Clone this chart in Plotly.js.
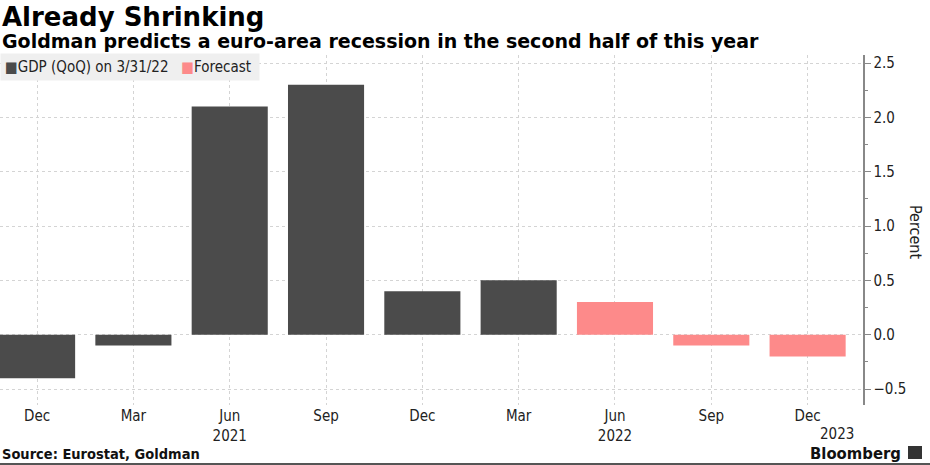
<!DOCTYPE html>
<html>
<head>
<meta charset="utf-8">
<script src="https://cdn.plot.ly/plotly-3.0.1.min.js"></script>
<style>html,body{margin:0;padding:0;background:#fff;}#chart{width:930px;height:465px;}</style>
</head>
<body>
<div id="chart"></div>
<script>
const categories = ['Dec 2020','Mar 2021','Jun 2021','Sep 2021','Dec 2021','Mar 2022','Jun 2022','Sep 2022','Dec 2022'];
const tickLabels = ['Dec','Mar','Jun<br>2021','Sep','Dec','Mar','Jun<br>2022','Sep','Dec'];
const gdpValues = [-0.4, -0.1, 2.1, 2.3, 0.4, 0.5, null, null, null];
const forecastValues = [null, null, null, null, null, null, 0.3, -0.1, -0.2];
const yTicks = [-0.5, 0, 0.5, 1, 1.5, 2, 2.5];
const seriesNames = ['GDP (QoQ) on 3/31/22', 'Forecast'];
const seriesColors = ['#4b4b4b', '#fd8a8a'];

const condensed = 'DejaVu Sans Condensed, DejaVu Sans, sans-serif';
const tickFont = {family: condensed, size: 15, color: '#222'};
const W = 863, H = 350, TOP = 55;
function px(X){ return X / W; }
function py(Y){ return (TOP + H - Y) / H; }

const traces = [
  {type:'bar', x: categories, y: gdpValues, name: seriesNames[0], marker:{color: seriesColors[0]}},
  {type:'bar', x: categories, y: forecastValues, name: seriesNames[1], marker:{color: seriesColors[1]}}
];

const legendText = '<span style="color:' + seriesColors[0] + '">■</span>' + seriesNames[0] +
  '   <span style="color:' + seriesColors[1] + '">■</span>' + seriesNames[1] + ' ';

const layout = {
  width: 930, height: 465,
  margin: {l:0, r:67, t:TOP, b:60},
  paper_bgcolor:'#fff', plot_bgcolor:'#fff',
  barmode:'overlay', bargap:0.21,
  showlegend:false,
  xaxis:{type:'category', range:[-0.385, 8.575], tickvals: categories, ticktext: tickLabels,
         showgrid:true, gridcolor:'#d4d4d4', griddash:'dot', gridwidth:1,
         showline:false, zeroline:false, ticks:'', tickfont: tickFont, fixedrange:true},
  yaxis:{side:'right', range:[-0.647, 2.574], tickvals: yTicks, tickformat:'.1f',
         showgrid:true, gridcolor:'#d4d4d4', griddash:'dot', gridwidth:1,
         showline:true, linecolor:'#888', linewidth:1.5, zeroline:false,
         ticks:'outside', ticklen:6, tickcolor:'#888', tickfont: tickFont,
         minor:{dtick:0.25, ticks:'outside', ticklen:3, tickcolor:'#888', showgrid:false}},
  annotations:[
    {text:'<b>Already Shrinking</b>', xref:'paper', yref:'paper', x:0, y:py(17), xanchor:'left', yanchor:'middle', showarrow:false,
     font:{family:'DejaVu Sans, sans-serif', size:26, color:'#000'}},
    {text:'<b>Goldman predicts a euro-area recession in the second half of this year</b>', xref:'paper', yref:'paper', x:0, y:py(41), xanchor:'left', yanchor:'middle', showarrow:false,
     font:{family:'DejaVu Sans, sans-serif', size:19, color:'#000'}},
    {text: legendText, xref:'paper', yref:'paper', x:0, y:py(67), xanchor:'left', yanchor:'middle', showarrow:false,
     bgcolor:'#efefef', borderpad:4, font:{family: condensed, size:15, color:'#222'}},
    {text:'Percent', xref:'paper', yref:'paper', x:px(916), y:py(232), xanchor:'center', yanchor:'middle', textangle:90, showarrow:false,
     font:{family: condensed, size:16, color:'#222'}},
    {text:'2023', xref:'x', yref:'paper', x:8.3, y:py(434), xanchor:'center', yanchor:'middle', showarrow:false,
     font: tickFont},
    {text:'<b>Source: Eurostat, Goldman</b>', xref:'paper', yref:'paper', x:0, y:py(454), xanchor:'left', yanchor:'middle', showarrow:false,
     font:{family: condensed, size:14.5, color:'#111'}},
    {text:'<b>Bloomberg</b>', xref:'paper', yref:'paper', x:px(903), y:py(453), xanchor:'right', yanchor:'middle', showarrow:false,
     font:{family: condensed, size:16.5, color:'#111'}}
  ],
  shapes:[
    {type:'rect', xref:'paper', yref:'paper', x0:px(908), x1:px(922), y0:py(459), y1:py(446), fillcolor:'#333', line:{width:0}},
    {type:'line', xref:'paper', yref:'paper', x0:0, x1:px(930), y0:py(464), y1:py(464), line:{color:'#555', width:2}}
  ]
};

Plotly.newPlot('chart', traces, layout, {displayModeBar:false, staticPlot:true});
</script>
</body>
</html>
